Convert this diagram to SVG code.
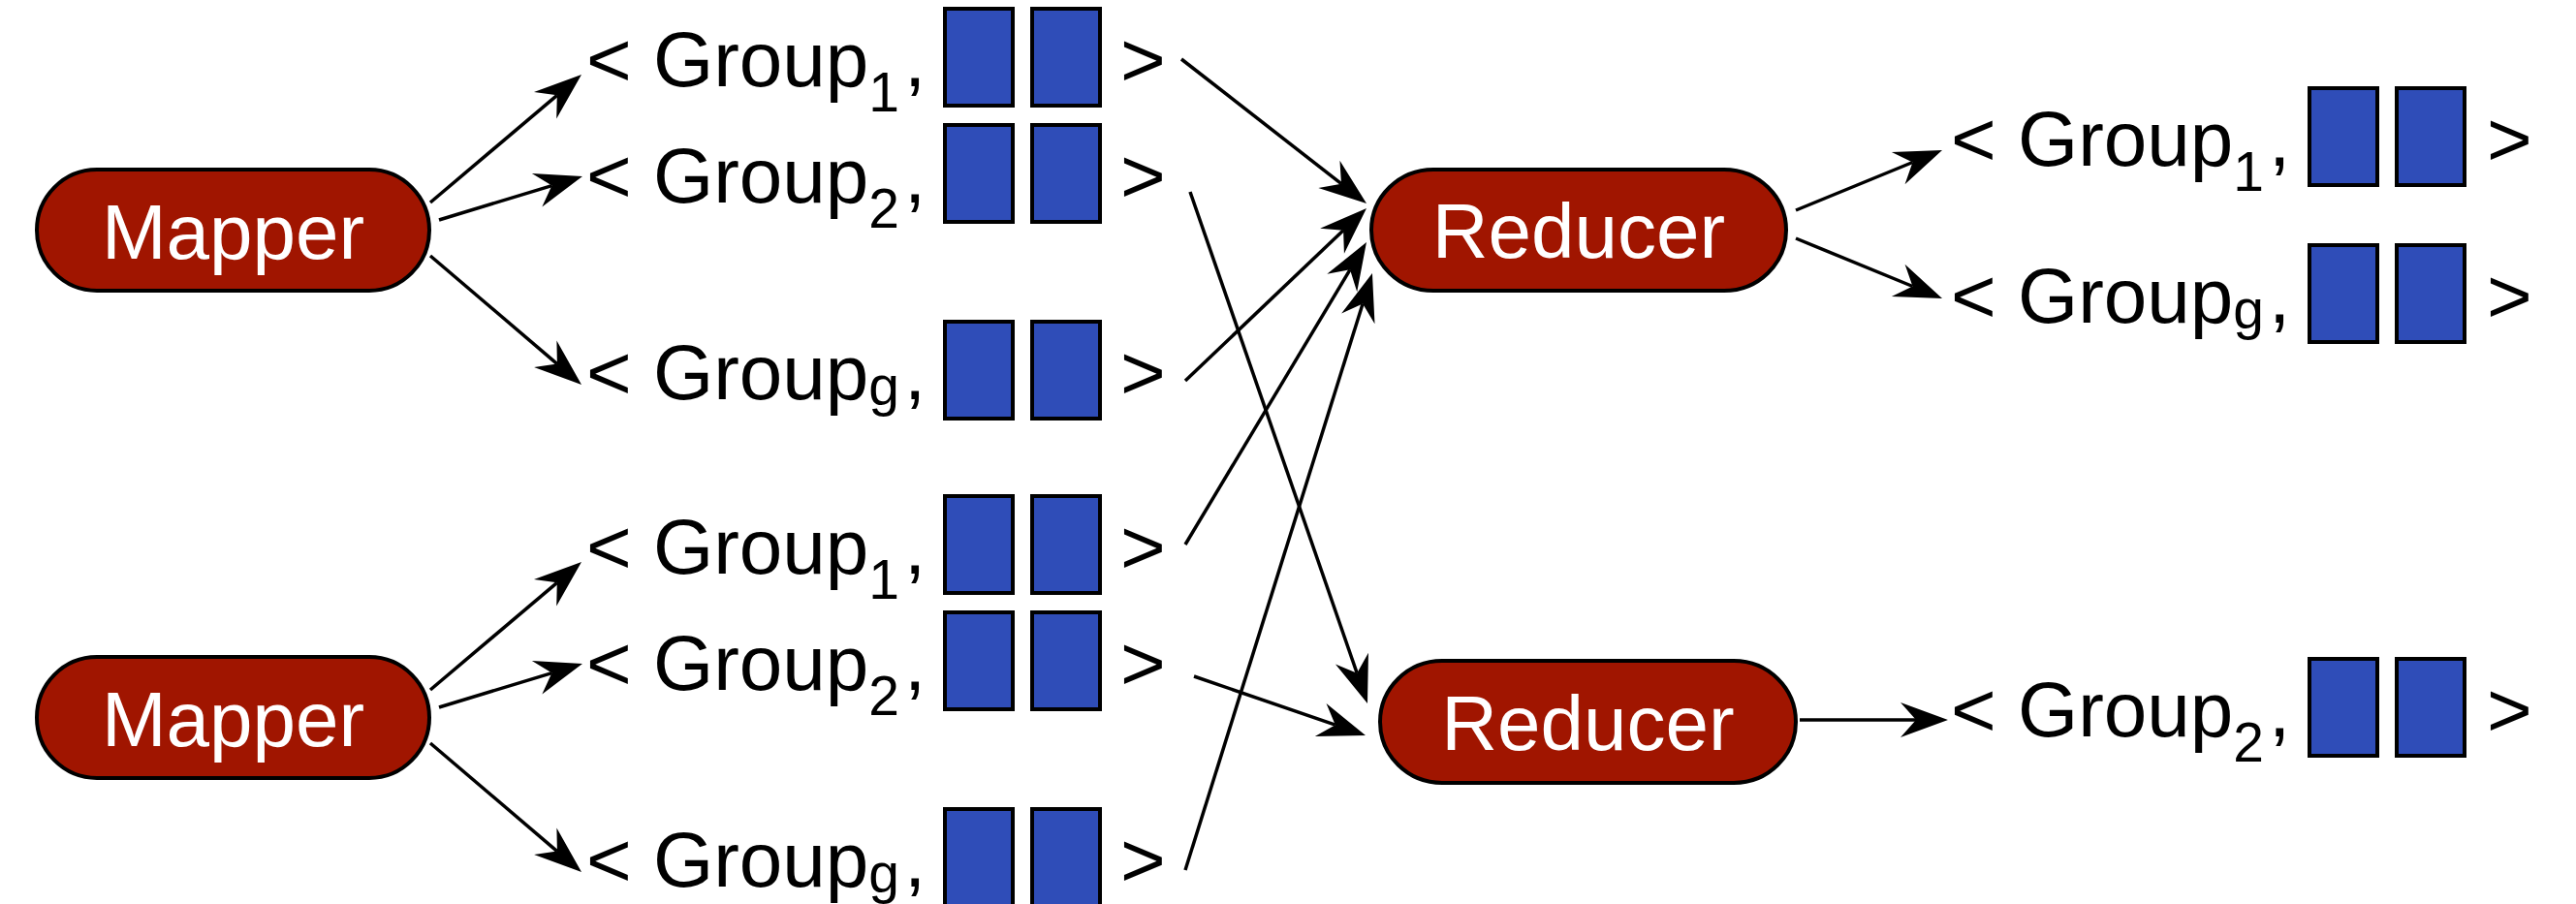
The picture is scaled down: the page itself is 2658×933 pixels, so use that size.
<svg xmlns="http://www.w3.org/2000/svg" width="2658" height="933" viewBox="0 0 2658 933">
<style>
.node{fill:#A01500;stroke:#000;stroke-width:4}
.nl{font-family:"Liberation Sans",Arial,sans-serif;font-size:80px;fill:#fff;text-anchor:middle}
.lbl{font-family:"Liberation Sans",Arial,sans-serif;font-size:80px;fill:#000}
.sub{font-size:57px}
.box{fill:#2F4DB8;stroke:#000;stroke-width:4}
.edge{stroke:#000;stroke-width:3.5;fill:none;marker-end:url(#ah)}
</style>
<defs>
<marker id="ah" markerUnits="userSpaceOnUse" orient="auto" markerWidth="60" markerHeight="40" viewBox="-20 -20 60 40" refX="0" refY="0" overflow="visible">
<path d="M33,0 L-16,-18 L0,0 L-16,18 Z" fill="#000"/>
</marker>
</defs>
<rect width="2658" height="933" fill="#fff"/>

<g id="mapper1"><rect class="node" x="38" y="175" width="405" height="125" rx="62" ry="63"/><text class="nl" x="240.5" y="267">Mapper</text></g>
<g id="mapper2"><rect class="node" x="38" y="678" width="405" height="125" rx="62" ry="63"/><text class="nl" x="240.5" y="770">Mapper</text></g>
<g id="reducer1"><rect class="node" x="1415" y="175" width="428" height="125" rx="64" ry="63"/><text class="nl" x="1629" y="266">Reducer</text></g>
<g id="reducer2"><rect class="node" x="1424" y="682" width="429" height="126" rx="64" ry="63"/><text class="nl" x="1638.5" y="774">Reducer</text></g>

<g id="m1g1" transform="translate(605,89)">
<text class="lbl" x="0" y="0">&lt; Group<tspan class="sub" dy="26">1</tspan><tspan x="328" dy="-26">,</tspan></text>
<rect class="box" x="370" y="-80" width="70" height="100"/><rect class="box" x="460" y="-80" width="70" height="100"/>
<text class="lbl" x="551" y="0">&gt;</text></g>
<g id="m1g2" transform="translate(605,209)">
<text class="lbl" x="0" y="0">&lt; Group<tspan class="sub" dy="26">2</tspan><tspan x="328" dy="-26">,</tspan></text>
<rect class="box" x="370" y="-80" width="70" height="100"/><rect class="box" x="460" y="-80" width="70" height="100"/>
<text class="lbl" x="551" y="0">&gt;</text></g>
<g id="m1gg" transform="translate(605,412)">
<text class="lbl" x="0" y="0">&lt; Group<tspan class="sub" dy="6">g</tspan><tspan x="328" dy="-6">,</tspan></text>
<rect class="box" x="370" y="-80" width="70" height="100"/><rect class="box" x="460" y="-80" width="70" height="100"/>
<text class="lbl" x="551" y="0">&gt;</text></g>

<g id="m2g1" transform="translate(605,592)">
<text class="lbl" x="0" y="0">&lt; Group<tspan class="sub" dy="26">1</tspan><tspan x="328" dy="-26">,</tspan></text>
<rect class="box" x="370" y="-80" width="70" height="100"/><rect class="box" x="460" y="-80" width="70" height="100"/>
<text class="lbl" x="551" y="0">&gt;</text></g>
<g id="m2g2" transform="translate(605,712)">
<text class="lbl" x="0" y="0">&lt; Group<tspan class="sub" dy="26">2</tspan><tspan x="328" dy="-26">,</tspan></text>
<rect class="box" x="370" y="-80" width="70" height="100"/><rect class="box" x="460" y="-80" width="70" height="100"/>
<text class="lbl" x="551" y="0">&gt;</text></g>
<g id="m2gg" transform="translate(605,915)">
<text class="lbl" x="0" y="0">&lt; Group<tspan class="sub" dy="6">g</tspan><tspan x="328" dy="-6">,</tspan></text>
<rect class="box" x="370" y="-80" width="70" height="100"/><rect class="box" x="460" y="-80" width="70" height="100"/>
<text class="lbl" x="551" y="0">&gt;</text></g>

<g id="r1g1" transform="translate(2013,171)">
<text class="lbl" x="0" y="0">&lt; Group<tspan class="sub" dy="26">1</tspan><tspan x="328" dy="-26">,</tspan></text>
<rect class="box" x="370" y="-80" width="70" height="100"/><rect class="box" x="460" y="-80" width="70" height="100"/>
<text class="lbl" x="553" y="0">&gt;</text></g>
<g id="r1gg" transform="translate(2013,333)">
<text class="lbl" x="0" y="0">&lt; Group<tspan class="sub" dy="6">g</tspan><tspan x="328" dy="-6">,</tspan></text>
<rect class="box" x="370" y="-80" width="70" height="100"/><rect class="box" x="460" y="-80" width="70" height="100"/>
<text class="lbl" x="553" y="0">&gt;</text></g>
<g id="r2g2" transform="translate(2013,760)">
<text class="lbl" x="0" y="0">&lt; Group<tspan class="sub" dy="26">2</tspan><tspan x="328" dy="-26">,</tspan></text>
<rect class="box" x="370" y="-80" width="70" height="100"/><rect class="box" x="460" y="-80" width="70" height="100"/>
<text class="lbl" x="553" y="0">&gt;</text></g>

<g id="connectors">
<path class="edge" d="M444,209 L574.8,98.3"/>
<path class="edge" d="M453,227 L569.4,191.6"/>
<path class="edge" d="M444,264 L574.9,375.6"/>
<path class="edge" d="M444,712 L574.8,601.3"/>
<path class="edge" d="M453,730 L569.4,694.6"/>
<path class="edge" d="M444,767 L574.9,878.6"/>
<path class="edge" d="M1219,61 L1384,189.7"/>
<path class="edge" d="M1223,393 L1386.1,237.7"/>
<path class="edge" d="M1223,562 L1393,278.3"/>
<path class="edge" d="M1223,898 L1406.1,313.5"/>
<path class="edge" d="M1228,198 L1400.2,694.8"/>
<path class="edge" d="M1232,698 L1377.8,748.2"/>
<path class="edge" d="M1853,217 L1973.5,167.5"/>
<path class="edge" d="M1853,246 L1973.5,295.5"/>
<path class="edge" d="M1857,743 L1977,743"/>
</g>
</svg>
